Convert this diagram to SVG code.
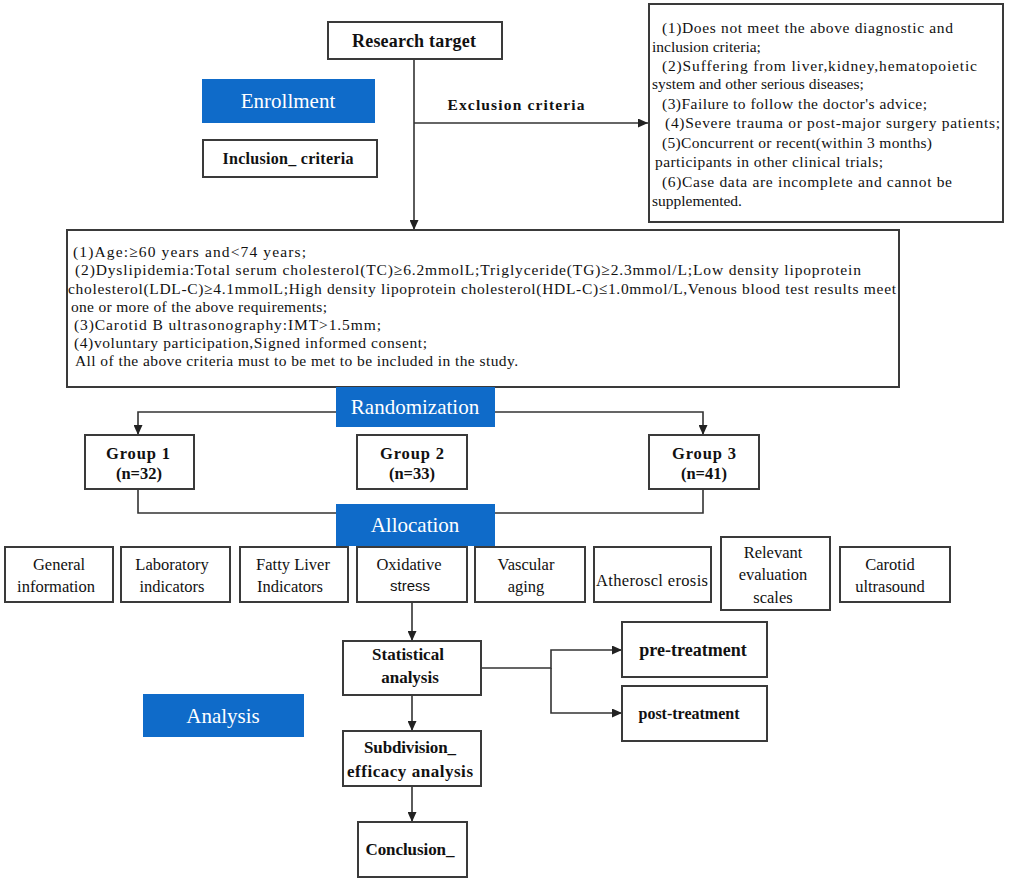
<svg xmlns="http://www.w3.org/2000/svg" width="1010" height="882" viewBox="0 0 1010 882">
<style>
.box{fill:#fff;stroke:#3a3a3a;stroke-width:2}
.blue{fill:#0F6BC9}
.bt{font-family:"Liberation Serif","Times New Roman",serif;fill:#fff;font-size:21px;text-anchor:middle}
.b{font-family:"Liberation Serif","Times New Roman",serif;font-weight:bold;fill:#111;font-size:16.5px;text-anchor:middle}
.t{font-family:"Liberation Serif","Times New Roman",serif;fill:#111;font-size:15.5px}
.c{font-family:"Liberation Serif","Times New Roman",serif;fill:#111;font-size:16.5px;text-anchor:middle}
.s{font-family:"Liberation Sans",Arial,sans-serif;fill:#111;font-size:15px;text-anchor:middle}
.ln{fill:none;stroke:#333;stroke-width:1.6}
</style>
<defs>
<marker id="ar" markerUnits="userSpaceOnUse" markerWidth="10" markerHeight="9" refX="10" refY="4.5" orient="auto">
<path d="M0,0 L10,4.5 L0,9 z" fill="#222"/>
</marker>
</defs>
<rect width="1010" height="882" fill="#fff"/>

<g id="connectors">
<path class="ln" d="M414,59 V230" marker-end="url(#ar)"/>
<path class="ln" d="M414,123 H648" marker-end="url(#ar)"/>
<path class="ln" d="M336,412 H138 V435" marker-end="url(#ar)"/>
<path class="ln" d="M495,412 H703 V435" marker-end="url(#ar)"/>
<path class="ln" d="M138,489 V513 H703 V489"/>
<path class="ln" d="M412,602 V641" marker-end="url(#ar)"/>
<path class="ln" d="M481,668 H551 V650 H622" marker-end="url(#ar)"/>
<path class="ln" d="M551,668 V713 H622" marker-end="url(#ar)"/>
<path class="ln" d="M412,695 V731" marker-end="url(#ar)"/>
<path class="ln" d="M412,786 V822" marker-end="url(#ar)"/>
</g>

<g id="research-target">
<rect class="box" x="328" y="22" width="174" height="37"/>
<text class="b" x="414" y="47" style="font-size:18px" textLength="124">Research target</text>
</g>

<g id="enrollment">
<rect class="blue" x="202" y="79" width="173" height="44"/>
<text class="bt" x="288" y="108">Enrollment</text>
</g>

<g id="inclusion-criteria">
<rect class="box" x="203" y="140" width="174" height="37"/>
<text class="b" x="288" y="164" style="font-size:16px" textLength="131">Inclusion_ criteria</text>
</g>

<g id="exclusion-label">
<text class="b" x="516" y="110" style="font-size:15.5px" textLength="137">Exclusion   criteria</text>
</g>

<g id="exclusion-box">
<rect class="box" x="649" y="4" width="354" height="218"/>
<text class="t" x="662" y="33" textLength="291">(1)Does not meet the above diagnostic and</text>
<text class="t" x="652" y="52">inclusion criteria;</text>
<text class="t" x="662" y="71" textLength="315">(2)Suffering from liver,kidney,hematopoietic</text>
<text class="t" x="652" y="89">system and other serious diseases;</text>
<text class="t" x="662" y="109" textLength="265">(3)Failure to follow the doctor's advice;</text>
<text class="t" x="665" y="128" textLength="335">(4)Severe trauma or post-major surgery patients;</text>
<text class="t" x="662" y="148" textLength="270">(5)Concurrent or recent(within 3 months)</text>
<text class="t" x="655" y="167" textLength="228">participants in other clinical trials;</text>
<text class="t" x="662" y="187" textLength="290">(6)Case data are incomplete and cannot be</text>
<text class="t" x="652" y="206">supplemented.</text>
</g>

<g id="inclusion-box">
<rect class="box" x="67" y="230" width="832" height="157"/>
<text class="t" x="73" y="257" textLength="233">(1)Age:≥60  years  and&lt;74  years;</text>
<text class="t" x="75" y="275" textLength="786">(2)Dyslipidemia:Total serum cholesterol(TC)≥6.2mmolL;Triglyceride(TG)≥2.3mmol/L;Low density lipoprotein</text>
<text class="t" x="68" y="294" textLength="828">cholesterol(LDL-C)≥4.1mmolL;High density lipoprotein cholesterol(HDL-C)≤1.0mmol/L,Venous blood test results meet</text>
<text class="t" x="71" y="312" textLength="256">one or more of the above requirements;</text>
<text class="t" x="74" y="330" textLength="307">(3)Carotid B ultrasonography:IMT&gt;1.5mm;</text>
<text class="t" x="74" y="348" textLength="353">(4)voluntary participation,Signed informed consent;</text>
<text class="t" x="75" y="366" textLength="443">All of the above criteria must to be met to be included in the study.</text>
</g>

<g id="randomization">
<rect class="blue" x="336" y="387" width="159" height="40"/>
<text class="bt" x="415" y="414">Randomization</text>
</g>

<g id="group1">
<rect class="box" x="85" y="435" width="109" height="54"/>
<text class="b" x="138" y="459" textLength="64">Group  1</text>
<text class="b" x="139" y="479">(n=32)</text>
</g>
<g id="group2">
<rect class="box" x="357" y="435" width="110" height="54"/>
<text class="b" x="412" y="459" textLength="64">Group  2</text>
<text class="b" x="412" y="479">(n=33)</text>
</g>
<g id="group3">
<rect class="box" x="649" y="435" width="110" height="54"/>
<text class="b" x="704" y="459" textLength="64">Group  3</text>
<text class="b" x="704" y="479">(n=41)</text>
</g>

<g id="allocation">
<rect class="blue" x="336" y="504" width="159" height="42"/>
<text class="bt" x="415" y="532">Allocation</text>
</g>

<g id="general-information">
<rect class="box" x="5" y="547" width="108" height="55"/>
<text class="c" x="59" y="570">General</text>
<text class="c" x="56" y="592">information</text>
</g>
<g id="laboratory-indicators">
<rect class="box" x="121" y="547" width="109" height="55"/>
<text class="c" x="172" y="570">Laboratory</text>
<text class="c" x="172" y="592">indicators</text>
</g>
<g id="fatty-liver-indicators">
<rect class="box" x="240" y="547" width="108" height="55"/>
<text class="c" x="293" y="570">Fatty  Liver</text>
<text class="c" x="290" y="592">Indicators</text>
</g>
<g id="oxidative-stress">
<rect class="box" x="357" y="547" width="110" height="55"/>
<text class="c" x="409" y="570">Oxidative</text>
<text class="s" x="410" y="591">stress</text>
</g>
<g id="vascular-aging">
<rect class="box" x="475" y="547" width="110" height="55"/>
<text class="c" x="526" y="570">Vascular</text>
<text class="c" x="526" y="592">aging</text>
</g>
<g id="atherosclerosis">
<rect class="box" x="594" y="547" width="117" height="55"/>
<text class="c" x="652" y="586" textLength="112">Atheroscl erosis</text>
</g>
<g id="relevant-evaluation-scales">
<rect class="box" x="721" y="537" width="109" height="73"/>
<text class="c" x="773" y="558">Relevant</text>
<text class="c" x="773" y="580">evaluation</text>
<text class="c" x="773" y="603">scales</text>
</g>
<g id="carotid-ultrasound">
<rect class="box" x="840" y="547" width="110" height="55"/>
<text class="c" x="890" y="570">Carotid</text>
<text class="c" x="890" y="592">ultrasound</text>
</g>

<g id="statistical-analysis">
<rect class="box" x="343" y="641" width="138" height="54"/>
<text class="b" x="408" y="660" style="font-size:17px">Statistical</text>
<text class="b" x="410" y="683" style="font-size:17px">analysis</text>
</g>

<g id="pre-treatment">
<rect class="box" x="622" y="622" width="145" height="55"/>
<text class="b" x="693" y="656" style="font-size:18px">pre-treatment</text>
</g>
<g id="post-treatment">
<rect class="box" x="622" y="686" width="145" height="55"/>
<text class="b" x="689" y="719" style="font-size:16px">post-treatment</text>
</g>

<g id="analysis">
<rect class="blue" x="143" y="694" width="161" height="43"/>
<text class="bt" x="223" y="723">Analysis</text>
</g>

<g id="subdivision-efficacy-analysis">
<rect class="box" x="343" y="731" width="138" height="55"/>
<text class="b" x="410" y="753" style="font-size:17px" textLength="92">Subdivision_</text>
<text class="b" x="410" y="777" style="font-size:17px" textLength="126">efficacy   analysis</text>
</g>

<g id="conclusion">
<rect class="box" x="358" y="822" width="109" height="55"/>
<text class="b" x="410" y="855" style="font-size:17px" textLength="89">Conclusion_</text>
</g>
</svg>
